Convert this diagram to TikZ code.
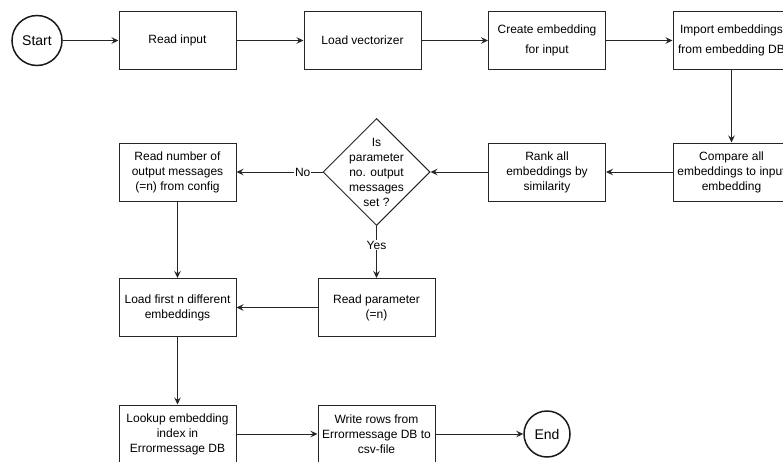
\documentclass[tikz,border=0pt]{standalone}
\usepackage{fontspec}
\setmainfont{Liberation Sans}
\usetikzlibrary{arrows.meta,shapes.geometric}
\begin{document}
\begin{tikzpicture}[x=1pt,y=-1pt,
  every node/.style={font=\fontsize{12}{15}\selectfont},
  box/.style={draw=black!85, line width=1pt, rectangle, minimum width=117pt, minimum height=58pt, inner sep=0pt, align=center},
  term/.style={draw=black!90, line width=1.5pt, circle, inner sep=0pt, font=\fontsize{14}{16}\selectfont},
  arr/.style={draw=black!85, line width=1pt, -{Stealth[length=7pt,width=6.5pt,inset=2.5pt]}},
  lbl/.style={fill=white, inner sep=1pt}
]
\useasboundingbox (0,0) rectangle (783,461);
\clip (0,0) rectangle (783,461);
\fill[white] (0,0) rectangle (783,461);

\node[term, minimum size=50pt] (start) at (37,40.5) {Start};
\node[box] (read) at (177.5,40.5) {Read input};
\node[box] (load) at (362.5,40.5) {Load vectorizer};
\node[box] (create) at (547,40.5) {Create embedding\\[5pt]for input};
\node[box] (import) at (731.5,40.5) {Import embeddings\\[5pt]from embedding DB};
\node[box] (compare) at (731.5,172) {Compare all\\embeddings to input\\embedding};
\node[box] (rank) at (547,172) {Rank all\\embeddings by\\similarity};
\node[diamond, draw=black!85, line width=1pt, minimum width=107pt, minimum height=107pt, inner sep=0pt] (dec) at (376.5,172) {};
\node[align=center] (dectext) at (dec.center) {Is\\parameter\\no. output\\messages\\set ?};
\node[box] (readnum) at (177.5,172) {Read number of\\output messages\\(=n) from config};
\node[box] (loadn) at (177.5,307.5) {Load first n different\\embeddings};
\node[box] (readparam) at (376.5,307.5) {Read parameter\\(=n)};
\node[box] (lookup) at (177.5,434) {Lookup embedding\\index in\\Errormessage DB};
\node[box] (write) at (376.5,434) {Write rows from\\Errormessage DB to\\csv-file};
\node[term, minimum size=46pt] (end) at (547,434) {End};

\draw[arr] (start) -- (read);
\draw[arr] (read) -- (load);
\draw[arr] (load) -- (create);
\draw[arr] (create) -- (import);
\draw[arr] (import) -- (compare);
\draw[arr] (compare) -- (rank);
\draw[arr] (rank) -- (dec);
\draw[arr] (dec) -- node[lbl, pos=0.23] (nolbl) {No} (readnum);
\draw[arr] (dec) -- node[lbl, pos=0.37] (yeslbl) {Yes} (readparam);
\draw[arr] (readnum) -- (loadn);
\draw[arr] (readparam) -- (loadn);
\draw[arr] (loadn) -- (lookup);
\draw[arr] (lookup) -- (write);
\draw[arr] (write) -- (end);
\end{tikzpicture}
\end{document}
